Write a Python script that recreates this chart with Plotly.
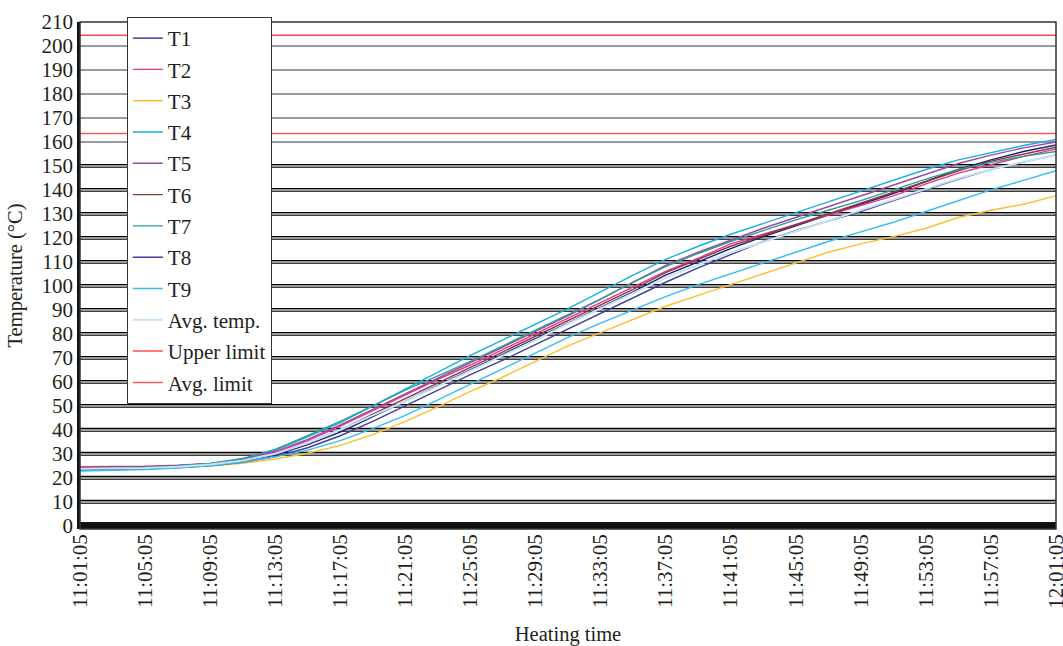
import plotly.graph_objects as go

times = ["11:01:05", "11:03:05", "11:05:05", "11:07:05", "11:09:05", "11:11:05", "11:13:05",
         "11:15:05", "11:17:05", "11:19:05", "11:21:05", "11:23:05", "11:25:05", "11:27:05",
         "11:29:05", "11:31:05", "11:33:05", "11:35:05", "11:37:05", "11:39:05", "11:41:05",
         "11:43:05", "11:45:05", "11:47:05", "11:49:05", "11:51:05", "11:53:05", "11:55:05",
         "11:57:05", "11:59:05", "12:01:05"]
tick_labels = ["11:01:05", "11:05:05", "11:09:05", "11:13:05", "11:17:05", "11:21:05", "11:25:05",
               "11:29:05", "11:33:05", "11:37:05", "11:41:05", "11:45:05", "11:49:05", "11:53:05",
               "11:57:05", "12:01:05"]

T1 = [24.0, 24.1, 24.3, 24.8, 25.6, 27.0, 29.5, 33.8, 39.0, 45.5, 52.0, 58.5, 65.0, 71.5, 78.0, 84.5,
      91.0, 97.5, 104.5, 110.0, 115.5, 120.5, 125.0, 129.5, 134.0, 138.5, 143.5, 148.5, 152.5, 156.0, 158.7]
T2 = [24.6, 24.6, 24.8, 25.2, 26.0, 27.7, 30.5, 35.5, 41.5, 48.0, 54.5, 61.0, 67.0, 73.5, 80.0, 86.5,
      93.0, 99.5, 106.0, 111.5, 117.5, 121.5, 125.5, 129.5, 133.5, 137.5, 142.5, 147.0, 150.5, 154.0, 157.0]
T3 = [23.5, 23.6, 23.8, 24.2, 24.9, 26.0, 27.8, 30.2, 33.5, 38.0, 43.5, 49.5, 56.0, 62.0, 68.5, 75.0,
      80.5, 86.0, 91.5, 96.0, 100.5, 105.0, 109.5, 114.0, 117.5, 120.5, 124.0, 128.5, 131.5, 134.0, 137.5]
T4 = [23.3, 23.4, 23.8, 24.5, 25.7, 27.8, 31.5, 37.0, 43.0, 50.0, 57.0, 64.0, 71.0, 77.5, 84.0, 90.5,
      97.5, 104.5, 111.0, 116.5, 121.5, 126.0, 130.5, 135.0, 139.5, 144.0, 148.5, 152.5, 155.5, 158.5, 161.0]
T5 = [24.0, 24.1, 24.4, 25.0, 25.9, 27.7, 31.0, 36.0, 42.0, 48.5, 55.0, 61.5, 68.0, 74.5, 81.0, 87.5,
      94.5, 101.5, 108.5, 114.0, 119.0, 124.0, 128.5, 133.0, 137.5, 142.0, 146.5, 151.0, 154.5, 157.5, 160.0]
T6 = [24.2, 24.3, 24.5, 25.0, 25.8, 27.3, 30.0, 34.5, 40.0, 46.5, 53.0, 59.5, 66.0, 72.5, 79.0, 85.5,
      92.0, 98.5, 105.5, 111.0, 116.5, 121.0, 125.5, 130.0, 134.5, 139.0, 143.5, 148.0, 152.0, 155.0, 157.8]
T7 = [24.0, 24.1, 24.4, 25.0, 26.0, 28.0, 31.8, 37.5, 43.5, 50.0, 56.5, 62.5, 68.5, 75.0, 81.5, 88.0,
      94.5, 101.5, 108.0, 113.5, 118.5, 123.0, 127.5, 131.5, 135.5, 140.0, 144.5, 148.5, 151.5, 154.0, 156.0]
T8 = [23.2, 23.3, 23.6, 24.2, 25.0, 26.4, 28.8, 32.5, 37.5, 43.5, 50.0, 56.5, 63.0, 69.0, 75.5, 82.0,
      88.5, 95.0, 101.5, 107.5, 113.0, 118.5, 123.0, 127.0, 131.0, 135.5, 140.0, 144.5, 148.5, 151.5, 154.6]
T9 = [22.8, 23.0, 23.4, 24.0, 25.0, 26.5, 28.7, 31.5, 35.5, 40.5, 46.0, 52.5, 59.0, 65.5, 72.0, 78.5,
      84.5, 90.0, 95.5, 100.5, 105.0, 109.5, 114.0, 118.5, 122.5, 126.5, 131.0, 135.5, 140.0, 144.0, 148.0]
avg_temp = [23.7, 23.8, 24.1, 24.6, 25.5, 27.2, 30.0, 34.5, 40.0, 46.0, 51.9, 58.2, 64.5, 70.8, 77.4, 84.2,
            90.5, 97.0, 103.3, 108.8, 113.9, 118.3, 122.7, 127.0, 131.4, 135.8, 140.3, 144.8, 148.5, 151.7, 154.5]
upper_limit = 204.5
avg_limit = 163.5

series = [
    ("T1", T1, "#1c1c7c", 1.4),
    ("T2", T2, "#e8338f", 1.4),
    ("T3", T3, "#fbc02d", 1.4),
    ("T4", T4, "#1aaee6", 1.4),
    ("T5", T5, "#9b4aa3", 1.4),
    ("T6", T6, "#8b3a3a", 1.4),
    ("T7", T7, "#2a9d9d", 1.4),
    ("T8", T8, "#3f3f9e", 1.4),
    ("T9", T9, "#33bdf0", 1.4),
    ("Avg. temp.", avg_temp, "#c6e2f5", 2.0),
    ("Upper limit", [upper_limit] * len(times), "#ff4a4a", 1.5),
    ("Avg. limit", [avg_limit] * len(times), "#f25a5a", 1.5),
]

fig = go.Figure()
for name, vals, color, w in series:
    fig.add_trace(go.Scatter(x=times, y=vals, mode="lines", name=name, legendgroup=name,
                             line=dict(color=color, width=w)))

black_grid = [10, 20, 30, 40, 50, 60, 70, 80, 90, 100, 110, 120, 130, 140, 150]
shapes = []
for g in black_grid:
    shapes.append(dict(type="line", xref="paper", x0=0, x1=1, yref="y", y0=g, y1=g,
                       line=dict(color="#000000", width=3.8), layer="below"))
shapes.append(dict(type="rect", xref="paper", yref="paper", x0=0, x1=1, y0=0, y1=1,
                   line=dict(color="#333333", width=1.5), layer="above"))

font_family = "Liberation Serif"
text_color = "#231f20"

fig.update_layout(
    width=1063, height=646,
    margin=dict(l=80, r=7, t=22, b=117),
    paper_bgcolor="white", plot_bgcolor="white",
    font=dict(family=font_family, size=21, color=text_color),
    shapes=shapes,
    showlegend=True,
    legend=dict(x=0.048, y=1.01, xanchor="left", yanchor="top", maxheight=600,
                bgcolor="white", bordercolor="#333333", borderwidth=1,
                tracegroupgap=1, font=dict(family=font_family, size=21, color=text_color)),
    xaxis=dict(type="category", range=[0, len(times) - 1], tickmode="array",
               tickvals=tick_labels, ticktext=tick_labels, tickangle=-90,
               showgrid=False, showline=False, zeroline=False, ticks="", automargin=False,
               title=dict(text="Heating time", font=dict(size=20.5), standoff=18),
               tickfont=dict(size=21)),
    yaxis=dict(range=[-1.37, 210], dtick=10, tick0=0, showgrid=True, gridcolor="#9a9a9a", gridwidth=2,
               zeroline=True, zerolinecolor="#111111", zerolinewidth=6.5,
               showline=True, linecolor="#111111", linewidth=2.5, ticks="", automargin=False,
               title=dict(text="Temperature (°C)", font=dict(size=20.5), standoff=14),
               tickfont=dict(size=21)),
)

fig.write_html("out.html", config={"displayModeBar": False},
               post_script="document.body.style.margin='0px';document.body.style.overflow='hidden';")
